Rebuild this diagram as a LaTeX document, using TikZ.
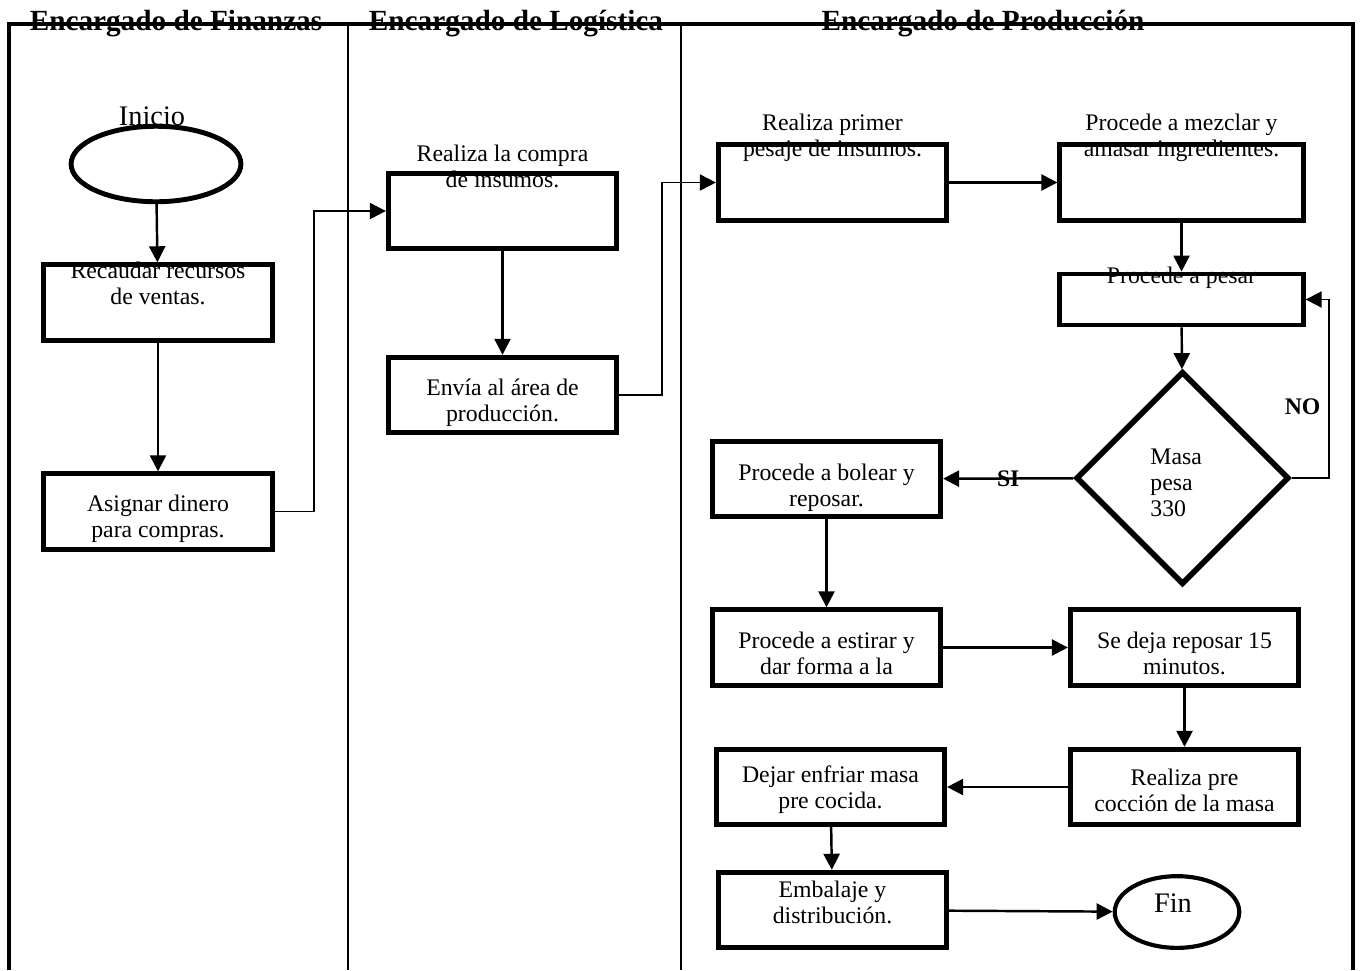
\documentclass[tikz,border=0pt]{standalone}
\usepackage{fontspec}
\setmainfont{Liberation Serif}
\usetikzlibrary{arrows.meta,shapes.geometric}

\begin{document}
\begin{tikzpicture}[x=0.53pt, y=-0.53pt, >={Triangle[length=8.5pt,width=8.5pt]},
    box/.style={draw, line width=2.6pt, minimum width=121pt, minimum height=40pt, inner sep=0pt},
    wide/.style={box, minimum width=129pt},
    endpoint/.style={draw, ellipse, inner sep=0pt},
    txt/.style={align=center, font=\fontsize{12.6}{13.8}\selectfont, inner sep=0pt},
    big/.style={font=\fontsize{15}{17}\selectfont, inner sep=0pt},
    lanetitle/.style={font=\fontsize{15.5}{17}\selectfont\bfseries, anchor=base, inner sep=0pt},
    tag/.style={font=\fontsize{12.6}{13.8}\selectfont\bfseries, inner sep=1pt},
    flow/.style={->, line width=1.3pt},
    elbow/.style={->, line width=1pt}]
    \useasboundingbox (0,0) rectangle (1361,970);

    % Lanes
    \draw [line width=2.6pt] (9,970) |- (1353,24) -- (1353,970);
    \draw [line width=0.8pt] (348,24) -- (348,970) (681,24) -- (681,970);
    \node [lanetitle] (finanzas)   at (176,30) {Encargado de Finanzas};
    \node [lanetitle] (logistica)  at (516,30) {Encargado de Logística};
    \node [lanetitle] (produccion) at (983,30) {Encargado de Producción};

    % Nodes {inicio, recaudar, asignar, compra, envia, ...}
    \node [endpoint, line width=2.6pt, minimum width=90pt, minimum height=40pt] (inicio) at (156,164) {};
    \node [big, anchor=base] (t-inicio) at (152,125) {Inicio};
    \node [box]  (recaudar) at (158,302.5)  {};
    \node [txt]  (t-recaudar) at (158,283)  {Recaudar recursos\\de ventas.};
    \node [box]  (asignar)  at (158,511.5)  {};
    \node [txt]  (t-asignar) at (158,519)   {Asignar dinero\\para compras.};
    \node [box]  (compra)   at (502.5,211)  {};
    \node [txt]  (t-compra) at (502.5,166)  {Realiza la compra\\de insumos.};
    \node [box]  (envia)    at (502.5,395)  {};
    \node [txt]  (t-envia)  at (502.5,403)  {Envía al área de\\producción.};
    \node [box]  (pesaje)   at (832.5,182.5) {};
    \node [txt]  (t-pesaje) at (832.5,138)  {Realiza primer\\pesaje de insumos.};
    \node [wide] (mezclar)  at (1181.5,182.5) {};
    \node [txt]  (t-mezclar) at (1181.5,138) {Procede a mezclar y\\amasar ingredientes.};
    \node [wide, minimum height=27pt] (pesar) at (1181.5,299.5) {};
    \node [txt]  (t-pesar)  at (1181.5,278) {Procede a pesar};
    \node [draw, diamond, line width=3pt, minimum width=113pt, minimum height=113pt, inner sep=0pt] (decision) at (1182.5,478) {};
    \node [txt, align=left, anchor=west] (t-decision) at (1150,483) {Masa\\pesa\\330};
    \node [box]  (bolear)   at (826.5,479)  {};
    \node [txt]  (t-bolear) at (826.5,488)  {Procede a bolear y\\reposar.};
    \node [box]  (estirar)  at (826.5,647.5) {};
    \node [txt]  (t-estirar) at (826.5,653) {Procede a estirar y\\dar forma a la};
    \node [box]  (reposar)  at (1184.5,647.5) {};
    \node [txt]  (t-reposar) at (1184.5,653) {Se deja reposar 15\\minutos.};
    \node [box]  (coccion)  at (1184.5,787) {};
    \node [txt]  (t-coccion) at (1184.5,790) {Realiza pre\\cocción de la masa};
    \node [box]  (enfriar)  at (830.5,787)  {};
    \node [txt]  (t-enfriar) at (830.5,790) {Dejar enfriar masa\\pre cocida.};
    \node [box]  (embalaje) at (832.5,910)  {};
    \node [txt]  (t-embalaje) at (832.5,902) {Embalaje y\\distribución.};
    \node [endpoint, line width=2.2pt, minimum width=66pt, minimum height=38pt] (fin) at (1177,912) {};
    \node [big]  (t-fin)    at (1173,903)   {Fin};

    % Paths
    \path [flow] (inicio)   edge (recaudar);
    \path [flow] (recaudar) edge (asignar);
    \path [flow] (compra)   edge (envia);
    \path [flow] (pesaje)   edge (mezclar);
    \path [flow] (mezclar)  edge (pesar);
    \path [flow] (pesar)    edge (decision);
    \path [flow] (decision) edge node [tag] {SI} (bolear);
    \path [flow] (bolear)   edge (estirar);
    \path [flow] (estirar)  edge (reposar);
    \path [flow] (reposar)  edge (coccion);
    \path [flow] (coccion)  edge (enfriar);
    \path [flow] (enfriar)  edge (embalaje);
    \path [flow] (embalaje) edge (fin);

    \draw [elbow] (asignar.east)  -- ++(39,0) |- (compra.west);
    \draw [elbow] (envia.east)    -- ++(43,0) |- (pesaje.west);
    \draw [elbow] (decision.east) -- ++(37,0) |- node [tag, pos=0.2, left=3pt] {NO} (pesar.east);

\end{tikzpicture}
\end{document}
